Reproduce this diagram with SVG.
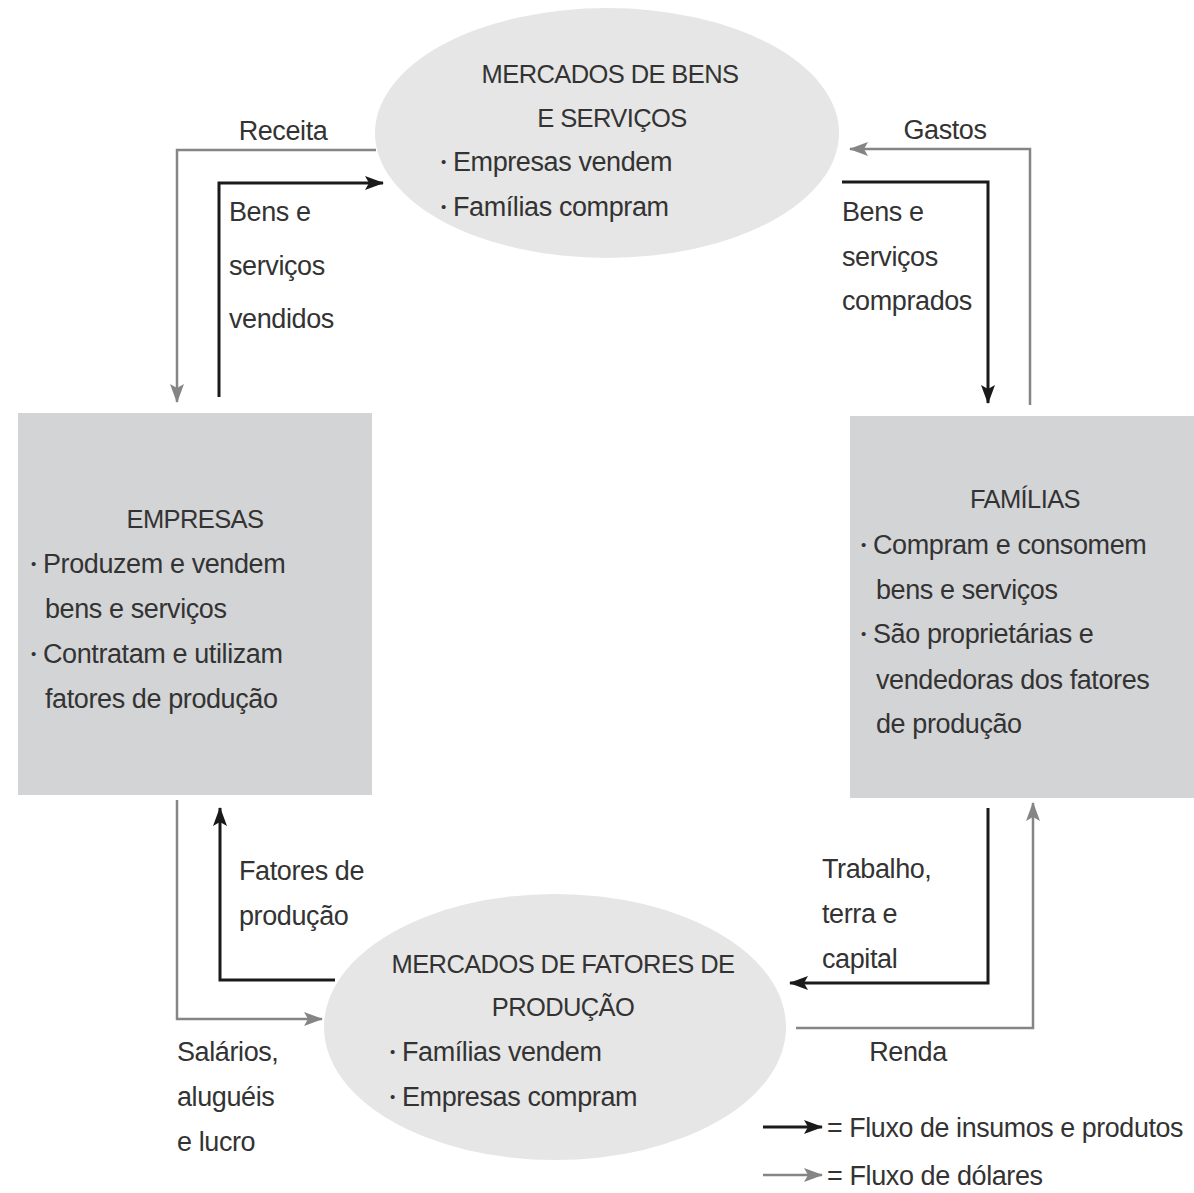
<svg xmlns="http://www.w3.org/2000/svg" width="1194" height="1193" viewBox="0 0 1194 1193">
<style>
text{font-family:"Liberation Sans",Arial,sans-serif;font-size:27px;fill:#333;letter-spacing:-0.4px}
.t{font-size:25.5px;letter-spacing:-0.6px}
.c{text-anchor:middle}
.b{font-size:15px}
.blk{fill:none;stroke:#1a1a1a;stroke-width:3}
.gry{fill:none;stroke:#858585;stroke-width:2.5}
.ell{fill:#e6e6e6}
.box{fill:#d3d4d6}
</style>
<defs>
<marker id="ab" markerUnits="userSpaceOnUse" markerWidth="20" markerHeight="16" refX="18" refY="8" orient="auto"><path d="M0,1 L19,8 L0,15 L4,8 z" fill="#1a1a1a"/></marker>
<marker id="ag" markerUnits="userSpaceOnUse" markerWidth="20" markerHeight="16" refX="18" refY="8" orient="auto"><path d="M0,1 L19,8 L0,15 L4,8 z" fill="#858585"/></marker>
</defs>
<rect width="1194" height="1193" fill="#fff"/>
<g id="mercado-bens">
<ellipse class="ell" cx="607" cy="133" rx="232" ry="125"/>
<text class="t c" x="610" y="83">MERCADOS DE BENS</text>
<text class="t c" x="612" y="127">E SERVIÇOS</text>
<text x="441" y="171"><tspan class="b" dy="-4">•</tspan><tspan dy="4"> Empresas vendem</tspan></text>
<text x="441" y="216"><tspan class="b" dy="-4">•</tspan><tspan dy="4"> Famílias compram</tspan></text>
</g>
<g id="mercado-fatores">
<ellipse class="ell" cx="555" cy="1027" rx="231" ry="133"/>
<text class="t c" x="563" y="973">MERCADOS DE FATORES DE</text>
<text class="t c" x="563" y="1016">PRODUÇÃO</text>
<text x="390" y="1061"><tspan class="b" dy="-4">•</tspan><tspan dy="4"> Famílias vendem</tspan></text>
<text x="390" y="1106"><tspan class="b" dy="-4">•</tspan><tspan dy="4"> Empresas compram</tspan></text>
</g>
<g id="empresas">
<rect class="box" x="18" y="413" width="354" height="382"/>
<text class="t c" x="195" y="528">EMPRESAS</text>
<text x="31" y="573"><tspan class="b" dy="-4">•</tspan><tspan dy="4"> Produzem e vendem</tspan></text>
<text x="45" y="618">bens e serviços</text>
<text x="31" y="663"><tspan class="b" dy="-4">•</tspan><tspan dy="4"> Contratam e utilizam</tspan></text>
<text x="45" y="708">fatores de produção</text>
</g>
<g id="familias">
<rect class="box" x="850" y="416" width="344" height="382"/>
<text class="t c" x="1025" y="508">FAMÍLIAS</text>
<text x="861" y="554"><tspan class="b" dy="-4">•</tspan><tspan dy="4"> Compram e consomem</tspan></text>
<text x="876" y="599">bens e serviços</text>
<text x="861" y="643"><tspan class="b" dy="-4">•</tspan><tspan dy="4"> São proprietárias e</tspan></text>
<text x="876" y="689">vendedoras dos fatores</text>
<text x="876" y="733">de produção</text>
</g>
<g id="connectors">
<path class="gry" d="M376,150 H177 V402" marker-end="url(#ag)"/>
<path class="blk" d="M219,397 V183 H383" marker-end="url(#ab)"/>
<path class="gry" d="M1030,405 V149 H850" marker-end="url(#ag)"/>
<path class="blk" d="M842,182 H988 V403" marker-end="url(#ab)"/>
<path class="blk" d="M335,980 H220 V808" marker-end="url(#ab)"/>
<path class="gry" d="M177,800 V1019 H322" marker-end="url(#ag)"/>
<path class="blk" d="M988,808 V983 H790" marker-end="url(#ab)"/>
<path class="gry" d="M796,1028 H1033 V803" marker-end="url(#ag)"/>
</g>
<g id="labels">
<text class="c" x="283" y="140">Receita</text>
<text x="229" y="221">Bens e</text>
<text x="229" y="275">serviços</text>
<text x="229" y="328">vendidos</text>
<text class="c" x="945" y="139">Gastos</text>
<text x="842" y="221">Bens e</text>
<text x="842" y="266">serviços</text>
<text x="842" y="310">comprados</text>
<text x="239" y="880">Fatores de</text>
<text x="239" y="925">produção</text>
<text x="177" y="1061">Salários,</text>
<text x="177" y="1106">aluguéis</text>
<text x="177" y="1151">e lucro</text>
<text x="822" y="878">Trabalho,</text>
<text x="822" y="923">terra e</text>
<text x="822" y="968">capital</text>
<text class="c" x="908" y="1061">Renda</text>
</g>
<g id="legend">
<path class="blk" d="M763,1127 H822" marker-end="url(#ab)"/>
<path class="gry" d="M763,1175 H822" marker-end="url(#ag)"/>
<text x="827" y="1137" textLength="356" lengthAdjust="spacingAndGlyphs">= Fluxo de insumos e produtos</text>
<text x="827" y="1185">= Fluxo de dólares</text>
</g>
</svg>
